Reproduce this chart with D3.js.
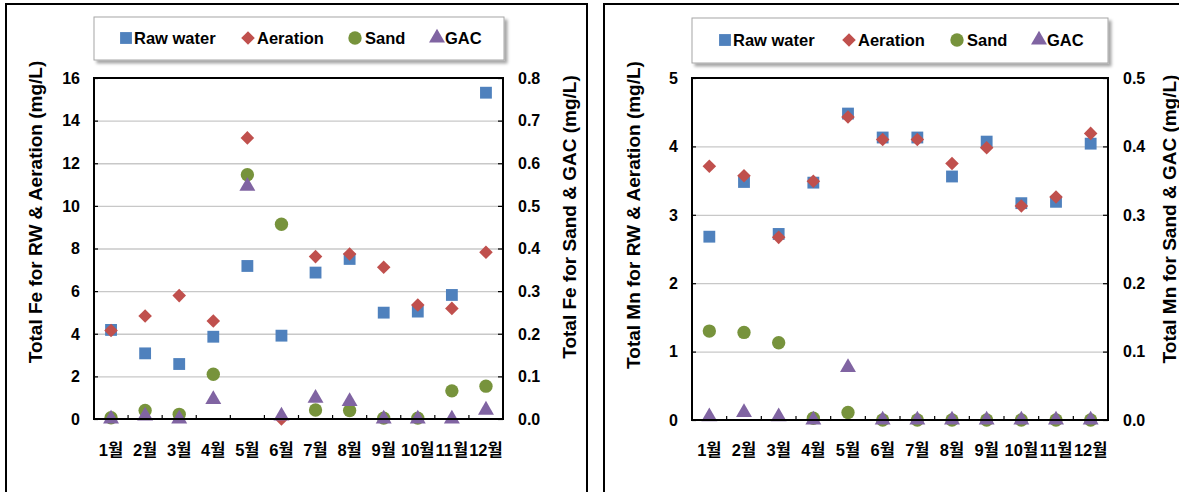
<!DOCTYPE html>
<html>
<head>
<meta charset="utf-8">
<script src="https://cdn.jsdelivr.net/npm/d3@7"></script>
<style>
  body { margin: 0; background: #fff; }
  svg text { font-family: "Liberation Sans", Arial, "Noto Sans CJK KR", sans-serif; font-weight: bold; fill: #000; }
</style>
</head>
<body>
<svg id="chart" width="1179" height="492"></svg>
<script>
const months = ['1월', '2월', '3월', '4월', '5월', '6월', '7월', '8월', '9월', '10월', '11월', '12월'];
const seriesNames = ['Raw water', 'Aeration', 'Sand', 'GAC'];

// Fe panel
const feRaw = [4.18, 3.08, 2.58, 3.86, 7.18, 3.91, 6.87, 7.51, 4.99, 5.04, 5.82, 15.31];
const feAeration = [4.15, 4.83, 5.79, 4.6, 13.19, 0, 7.62, 7.74, 7.12, 5.35, 5.19, 7.82];
const feSand = [0.003, 0.02, 0.011, 0.105, 0.573, 0.457, 0.021, 0.02, 0.002, 0.002, 0.066, 0.077];
const feGac = [0, 0.007, 0, 0.046, 0.546, 0.007, 0.049, 0.041, 0, 0, 0, 0.021];
const feLeftTicks = [0, 2, 4, 6, 8, 10, 12, 14, 16];
const feRightTicks = [0, 0.1, 0.2, 0.3, 0.4, 0.5, 0.6, 0.7, 0.8];

// Mn panel
const mnRaw = [2.68, 3.48, 2.72, 3.47, 4.48, 4.13, 4.13, 3.56, 4.07, 3.17, 3.19, 4.04];
const mnAeration = [3.71, 3.57, 2.67, 3.49, 4.43, 4.1, 4.1, 3.75, 3.98, 3.13, 3.26, 4.19];
const mnSand = [0.13, 0.128, 0.113, 0.0025, 0.011, 0, 0, 0, 0, 0, 0, 0];
const mnGac = [0.005, 0.011, 0.005, 0, 0.077, 0, 0, 0, 0, 0, 0, 0];
const mnLeftTicks = [0, 1, 2, 3, 4, 5];
const mnRightTicks = [0, 0.1, 0.2, 0.3, 0.4, 0.5];

const colors = ['#4F81BD', '#C0504D', '#77933C', '#8064A2'];
const shapes = [d3.symbolSquare, d3.symbolSquare, d3.symbolCircle, d3.symbolTriangle];
const sizes = [140, 92, 140, 110];
const rotations = [0, 45, 0, 0];

const svg = d3.select('#chart');

const defs = svg.append('defs');
defs.append('filter').attr('id', 'shadow')
  .attr('x', '-5%').attr('y', '-20%').attr('width', '115%').attr('height', '160%')
  .append('feDropShadow')
  .attr('dx', 3).attr('dy', 3).attr('stdDeviation', 1.5)
  .attr('flood-color', '#000').attr('flood-opacity', 0.35);

function marker(i) {
  return d3.symbol().type(shapes[i]).size(sizes[i])();
}

function drawPanel(p) {
  const g = svg.append('g');

  // panel frame
  g.append('rect')
    .attr('x', p.frame[0]).attr('y', p.frame[1])
    .attr('width', p.frame[2]).attr('height', p.frame[3])
    .attr('fill', 'none').attr('stroke', '#000').attr('stroke-width', 2);

  const x = d3.scaleBand().domain(months).range([p.left, p.right]);
  const yL = d3.scaleLinear().domain([0, p.leftMax]).range([p.bottom, p.top]);
  const yR = d3.scaleLinear().domain([0, p.rightMax]).range([p.bottom, p.top]);

  // gridlines
  g.append('g')
    .attr('transform', `translate(${p.left},0)`)
    .call(d3.axisRight(yL).tickValues(p.leftTicks.slice(1, -1)).tickSize(p.right - p.left).tickFormat(''))
    .call(a => a.select('.domain').remove())
    .call(a => a.selectAll('line').attr('stroke', '#c8c8c8').attr('stroke-width', 1.3));

  // inner tick marks
  g.append('g')
    .attr('transform', `translate(${p.left},0)`)
    .call(d3.axisRight(yL).tickValues(p.leftTicks).tickSize(4).tickFormat(''))
    .call(a => a.select('.domain').remove())
    .call(a => a.selectAll('line').attr('stroke', '#000').attr('stroke-width', 1.2));
  g.append('g')
    .attr('transform', `translate(${p.right},0)`)
    .call(d3.axisLeft(yR).tickValues(p.rightTicks).tickSize(5).tickFormat(''))
    .call(a => a.select('.domain').remove())
    .call(a => a.selectAll('line').attr('stroke', '#000').attr('stroke-width', 1.2));

  // x minor ticks at category boundaries
  const bounds = months.slice(1).map(m => x(m));
  g.append('g').selectAll('line').data(bounds).join('line')
    .attr('x1', d => d).attr('x2', d => d)
    .attr('y1', p.bottom).attr('y2', p.bottom - 4)
    .attr('stroke', '#000').attr('stroke-width', 1.2);

  // tick labels
  g.append('g').selectAll('text').data(p.leftTicks).join('text')
    .attr('x', p.left - 14).attr('y', d => yL(d)).attr('dy', '0.36em')
    .attr('text-anchor', 'end').style('font-size', '16px')
    .text(d => d);
  g.append('g').selectAll('text').data(p.rightTicks).join('text')
    .attr('x', p.right + 15).attr('y', d => yR(d)).attr('dy', '0.36em')
    .attr('text-anchor', 'start').style('font-size', '16px')
    .text(d => d3.format('.1f')(d));
  g.append('g').selectAll('text').data(months).join('text')
    .attr('x', d => x(d) + x.bandwidth() / 2).attr('y', 450).attr('dy', '0.36em')
    .attr('text-anchor', 'middle').style('font-size', '16.5px')
    .text(d => d);

  // axis titles
  g.append('text')
    .attr('transform', `translate(${p.leftTitleX},${p.leftTitleY}) rotate(-90)`)
    .attr('text-anchor', 'middle').attr('dy', '0.36em').style('font-size', '19px')
    .text(p.leftTitle);
  g.append('text')
    .attr('transform', `translate(${p.rightTitleX},${p.rightTitleY}) rotate(-90)`)
    .attr('text-anchor', 'middle').attr('dy', '0.36em').style('font-size', '19px')
    .text(p.rightTitle);

  // points
  const series = [
    { vals: p.raw, y: yL },
    { vals: p.aeration, y: yL },
    { vals: p.sand, y: yR },
    { vals: p.gac, y: yR }
  ];
  series.forEach((s, i) => {
    g.append('g').selectAll('path').data(s.vals).join('path')
      .attr('d', marker(i))
      .attr('transform', (d, j) => `translate(${x(months[j]) + x.bandwidth() / 2},${s.y(d)}) rotate(${rotations[i]})`)
      .attr('fill', colors[i]);
  });

  // plot frame
  g.append('rect')
    .attr('x', p.left).attr('y', p.top)
    .attr('width', p.right - p.left).attr('height', p.bottom - p.top)
    .attr('fill', 'none').attr('stroke', '#000').attr('stroke-width', 2);

  // legend
  const lg = g.append('g');
  lg.append('rect')
    .attr('x', p.legend[0]).attr('y', p.legend[1])
    .attr('width', p.legend[2]).attr('height', p.legend[3])
    .attr('fill', '#fff').attr('stroke', '#a6a6a6').attr('stroke-width', 1)
    .attr('filter', 'url(#shadow)');
  seriesNames.forEach((name, i) => {
    const it = p.legendItems[i];
    lg.append('path')
      .attr('d', marker(i))
      .attr('transform', `translate(${it[0]},${p.legendY}) rotate(${rotations[i]})`)
      .attr('fill', colors[i]);
    lg.append('text')
      .attr('x', it[1]).attr('y', p.legendY).attr('dy', '0.36em')
      .style('font-size', '16.5px')
      .text(name);
  });
}

drawPanel({
  frame: [6, 4, 581, 500],
  left: 94, right: 503, top: 78, bottom: 419,
  leftMax: 16, rightMax: 0.8,
  leftTicks: feLeftTicks, rightTicks: feRightTicks,
  raw: feRaw, aeration: feAeration, sand: feSand, gac: feGac,
  leftTitle: 'Total Fe for RW & Aeration (mg/L)', leftTitleX: 35, leftTitleY: 212,
  rightTitle: 'Total Fe for Sand & GAC (mg/L)', rightTitleX: 569, rightTitleY: 217,
  legend: [94, 17, 410, 43], legendY: 38,
  legendItems: [[126, 134], [248, 257], [355, 365], [437, 445]]
});

drawPanel({
  frame: [604, 4, 590, 500],
  left: 692, right: 1108, top: 78, bottom: 420,
  leftMax: 5, rightMax: 0.5,
  leftTicks: mnLeftTicks, rightTicks: mnRightTicks,
  raw: mnRaw, aeration: mnAeration, sand: mnSand, gac: mnGac,
  leftTitle: 'Total Mn for RW & Aeration (mg/L)', leftTitleX: 633, leftTitleY: 215,
  rightTitle: 'Total Mn for Sand & GAC (mg/L)', rightTitleX: 1169, rightTitleY: 219,
  legend: [692, 18, 416, 45], legendY: 40,
  legendItems: [[725, 733], [849, 858], [957, 967], [1039, 1047]]
});
</script>
</body>
</html>
